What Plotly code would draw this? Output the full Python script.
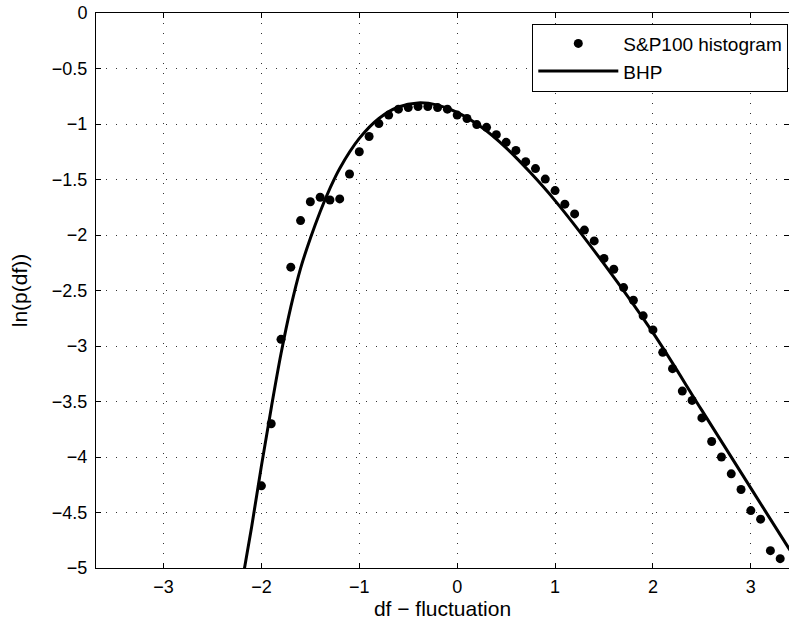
import plotly.graph_objects as go

# --- datos ---
hist_x = [-2.0, -1.9, -1.8, -1.7, -1.6, -1.5, -1.4, -1.3, -1.2, -1.1,
          -1.0, -0.9, -0.8, -0.7, -0.6, -0.5, -0.4, -0.3, -0.2, -0.1,
          0.0, 0.1, 0.2, 0.3, 0.4, 0.5, 0.6, 0.7, 0.8, 0.9,
          1.0, 1.1, 1.2, 1.3, 1.4, 1.5, 1.6, 1.7, 1.8, 1.9,
          2.0, 2.1, 2.2, 2.3, 2.4, 2.5, 2.6, 2.7, 2.8, 2.9,
          3.0, 3.1, 3.2, 3.3]
hist_y = [-4.26, -3.70, -2.94, -2.29, -1.87, -1.70, -1.66, -1.685, -1.675, -1.45,
          -1.25, -1.113, -0.996, -0.92, -0.866, -0.852, -0.843, -0.843, -0.852, -0.866,
          -0.92, -0.95, -1.005, -1.03, -1.096, -1.165, -1.238, -1.339, -1.402, -1.496,
          -1.60, -1.722, -1.81, -1.956, -2.053, -2.211, -2.309, -2.474, -2.588, -2.728,
          -2.855, -3.057, -3.204, -3.406, -3.49, -3.648, -3.86, -4.0, -4.152, -4.293,
          -4.483, -4.56, -4.844, -4.916]

bhp_x = [-2.2, -2.1, -2.0, -1.9, -1.8, -1.7, -1.6, -1.5, -1.4, -1.3,
         -1.2, -1.0, -0.8, -0.6, -0.4, -0.2, 0.0, 0.25, 0.5, 0.75,
         1.0, 1.5, 2.0, 2.5, 3.0, 3.4]
bhp_y = [-5.14, -4.63, -4.08, -3.56, -3.07, -2.65, -2.30, -2.03, -1.79, -1.58,
         -1.40, -1.13, -0.95, -0.847, -0.81, -0.83, -0.895, -1.03, -1.215, -1.44,
         -1.69, -2.26, -2.88, -3.58, -4.28, -4.84]

x_ticks = [-3, -2, -1, 0, 1, 2, 3]
x_labels = ["\u22123", "\u22122", "\u22121", "0", "1", "2", "3"]
y_ticks = [0, -0.5, -1, -1.5, -2, -2.5, -3, -3.5, -4, -4.5, -5]
y_labels = ["0", "\u22120.5", "\u22121", "\u22121.5", "\u22122", "\u22122.5",
            "\u22123", "\u22123.5", "\u22124", "\u22124.5", "\u22125"]

FONT = "Liberation Sans, Arial, Helvetica, sans-serif"

fig = go.Figure()

fig.add_trace(go.Scatter(
    x=hist_x, y=hist_y, mode="markers", name="S&P100 histogram",
    marker=dict(color="black", size=9),
))

fig.add_trace(go.Scatter(
    x=bhp_x, y=bhp_y, mode="lines", name="BHP",
    line=dict(color="black", width=3, shape="spline", smoothing=1),
))

axis_common = dict(
    showline=True, linecolor="black", linewidth=1, mirror="ticks",
    ticks="inside", ticklen=5, tickcolor="black",
    showgrid=True, gridcolor="#333333", gridwidth=1, griddash="1px,9px",
    zeroline=False, automargin=False,
    tickfont=dict(size=18, color="black", family=FONT),
)

fig.update_layout(
    width=789, height=628,
    margin=dict(l=96, r=0, t=13, b=60, autoexpand=False),
    paper_bgcolor="white", plot_bgcolor="white",
    font=dict(family=FONT, color="black"),
    showlegend=True,
    legend=dict(
        x=0.999, y=0.981, xanchor="right", yanchor="top",
        bordercolor="black", borderwidth=1, bgcolor="white",
        font=dict(size=19, family=FONT, color="black"),
        itemwidth=80, tracegroupgap=0,
    ),
    xaxis=dict(
        range=[-3.69, 3.39], tickvals=x_ticks, ticktext=x_labels,
        ticklabelstandoff=2,
        title=dict(text="df \u2212 fluctuation", font=dict(size=21), standoff=5),
        **axis_common,
    ),
    yaxis=dict(
        range=[-5, 0], tickvals=y_ticks, ticktext=y_labels,
        ticklabelstandoff=4,
        title=dict(text="ln(p(df))", font=dict(size=21), standoff=18),
        **axis_common,
    ),
)

# quitar el margen por defecto del body para que la figura empiece en (0, 0)
fig.write_html(
    "out.html",
    config={"displayModeBar": False},
    post_script="document.body.style.margin='0';document.body.style.overflow='hidden';",
)
